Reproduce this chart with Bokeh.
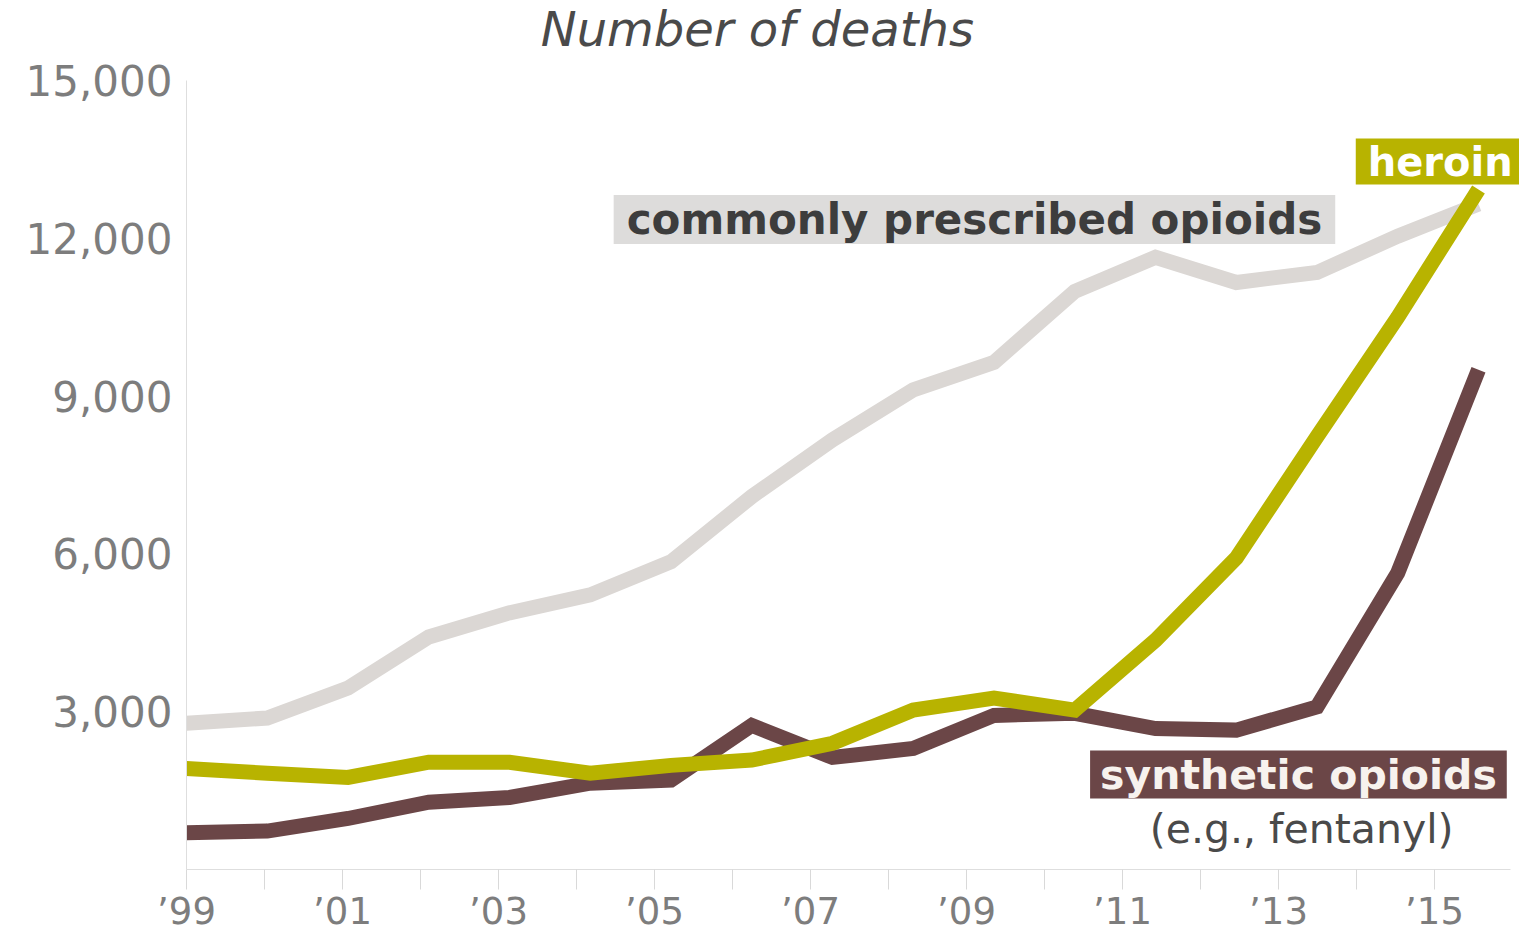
from bokeh.plotting import figure
from bokeh.models import (Range1d, LinearAxis, FixedTicker, NumeralTickFormatter, Label)
from bokeh.embed import file_html
from bokeh.resources import INLINE

# ---- data ----
years = list(range(1999, 2016))
prescribed = [2780, 2880, 3450, 4420, 4880, 5220, 5850, 7090, 8170, 9120,
              9640, 10990, 11640, 11160, 11350, 12040, 12650]
heroin = [1920, 1830, 1750, 2040, 2040, 1830, 1980, 2080, 2400, 3030,
          3260, 3030, 4360, 5920, 8230, 10500, 12930]
synthetic = [700, 730, 970, 1280, 1370, 1640, 1700, 2740, 2130, 2300,
             2930, 2970, 2680, 2650, 3090, 5640, 9500]
y_ticks = [3000, 6000, 9000, 12000, 15000]
tick_years = list(range(1999, 2016))
tick_labels = {y: ("\u2019%02d" % (y % 100) if y % 2 == 1 else "") for y in tick_years}

FONT = "DejaVu Sans"
GREY = "#dbd7d4"
OLIVE = "#b8b300"
BROWN = "#6b4647"

W, H = 1519, 931
AXIS_X = 186          # pixel column of the y axis
AXIS_END = 1510       # right end of the x axis line

# vertical layout: value 0 at 869px, 15,000 at 80px from the top
px_per_unit = 789 / 15000
y_top = 869 / px_per_unit
y_bottom = -(H - 869) / px_per_unit

# data are spaced a little wider than the axis ticks in the reference
data_px_per_year = 80.75
tick_px_per_year = 78.0
x0 = 1999 - AXIS_X / data_px_per_year
t0 = 1999 - AXIS_X / tick_px_per_year

p = figure(width=W, height=H, output_backend="svg", toolbar_location=None,
           x_range=Range1d(x0, x0 + W / data_px_per_year),
           y_range=Range1d(y_bottom, y_top),
           x_axis_type=None, y_axis_type=None,
           min_border_left=0, min_border_right=0,
           min_border_top=0, min_border_bottom=0)
p.outline_line_color = None
p.background_fill_color = "white"
p.border_fill_color = "white"

p.extra_x_ranges = {"ticks": Range1d(t0, t0 + W / tick_px_per_year)}
xa = LinearAxis(x_range_name="ticks", ticker=FixedTicker(ticks=tick_years),
                fixed_location=0,
                bounds=(1999, 1999 + (AXIS_END - AXIS_X) / tick_px_per_year))
xa.major_label_overrides = tick_labels
xa.major_tick_out = 20
xa.major_tick_in = 0
xa.minor_tick_out = 0
xa.major_tick_line_color = "#d9d9d9"
xa.axis_line_color = "#dedede"
xa.major_label_standoff = 0
xa.major_label_text_font = FONT
xa.major_label_text_font_size = "37px"
xa.major_label_text_color = "#7d7d7d"
p.add_layout(xa, "below")

ya = LinearAxis(ticker=FixedTicker(ticks=y_ticks), fixed_location=1999,
                bounds=(0, 15000), formatter=NumeralTickFormatter(format="0,0"))
ya.major_tick_out = 0
ya.major_tick_in = 0
ya.minor_tick_out = 0
ya.minor_tick_in = 0
ya.axis_line_color = "#dedede"
ya.major_label_standoff = 14
ya.major_label_text_font = FONT
ya.major_label_text_font_size = "42px"
ya.major_label_text_color = "#7d7d7d"
p.add_layout(ya, "left")

p.xgrid.visible = False
p.ygrid.ticker = FixedTicker(ticks=y_ticks)
p.ygrid.bounds = (1999, 1999 + (AXIS_END - AXIS_X) / data_px_per_year)
p.ygrid.grid_line_color = "#e3e3e3"
p.ygrid.grid_line_dash = "14 12"
p.ygrid.grid_line_width = 1.5

p.line(years, prescribed, line_color=GREY, line_width=15, line_join="miter")
p.line(years, synthetic, line_color=BROWN, line_width=15, line_join="miter")
p.line(years, heroin, line_color=OLIVE, line_width=15, line_join="miter")

# labels
p.add_layout(Label(x=2006.07, y=15988, text="Number of deaths", text_font=FONT,
                   text_font_style="italic", text_font_size="48px",
                   text_color="#4a4a4a", text_align="center", text_baseline="middle"))
p.add_layout(Label(x=2004.29, y=12357, text="commonly prescribed opioids",
                   text_font=FONT, text_font_style="bold", text_font_size="42px",
                   text_color="#3d3d3d", text_align="left", text_baseline="middle",
                   background_fill_color="#dddcdb", padding=(13, 0)))
p.add_layout(Label(x=2013.48, y=13460, text="heroin",
                   text_font=FONT, text_font_style="bold", text_font_size="40px",
                   text_color="white", text_align="left", text_baseline="middle",
                   background_fill_color=OLIVE, padding=(12, 0)))
p.add_layout(Label(x=2010.19, y=1806, text="synthetic opioids",
                   text_font=FONT, text_font_style="bold", text_font_size="41px",
                   text_color="#f7f2ee", text_align="left", text_baseline="middle",
                   background_fill_color=BROWN, padding=(10, 0)))
p.add_layout(Label(x=2012.81, y=779, text="(e.g., fentanyl)",
                   text_font=FONT, text_font_size="41px",
                   text_color="#4a4a4a", text_align="center", text_baseline="middle"))

open("out.html", "w").write(file_html(p, INLINE))
